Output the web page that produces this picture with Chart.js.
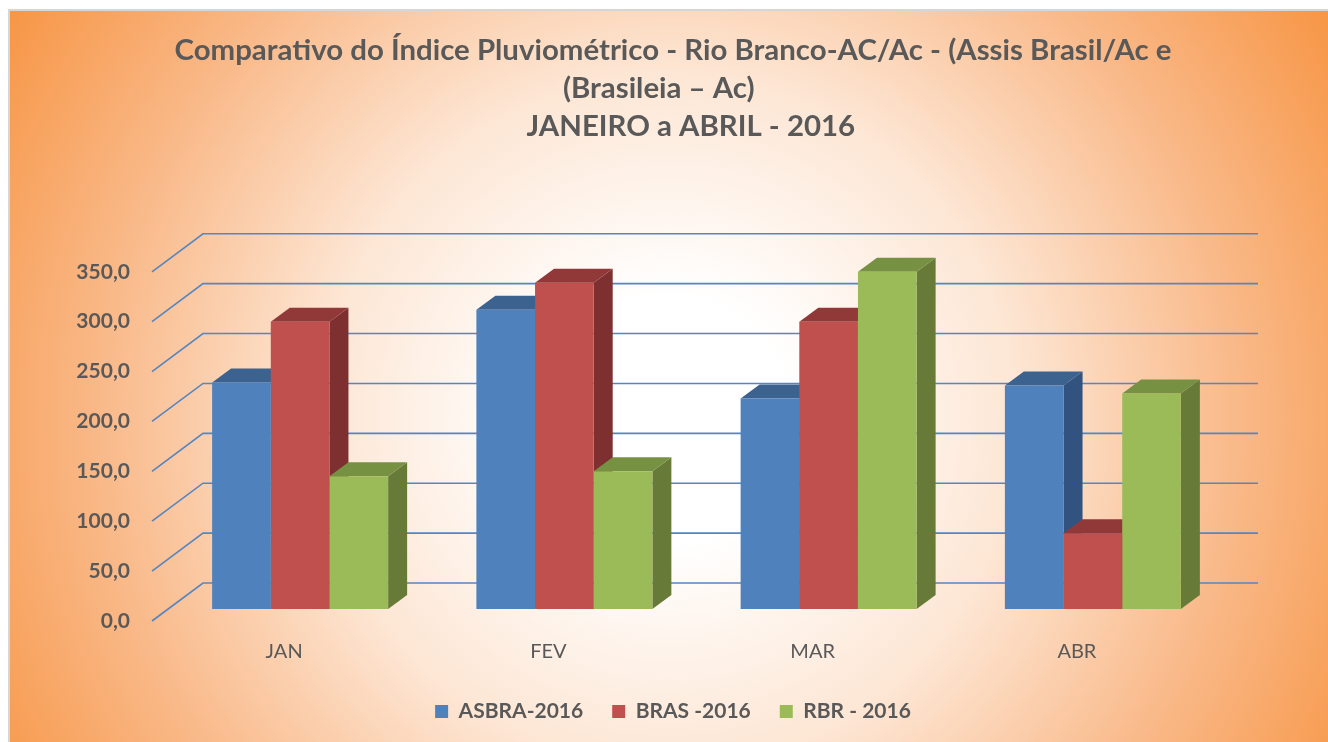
<!DOCTYPE html>
<html>
<head>
<meta charset="utf-8">
<script src="https://cdn.jsdelivr.net/npm/chart.js@4.4.1/dist/chart.umd.min.js"></script>
<style>
  html, body { margin: 0; padding: 0; background: #fff; }
  .wrap { position: relative; width: 1328px; height: 742px; overflow: hidden; }
  .bg {
    position: absolute; left: 8px; top: 9px; right: 0; bottom: 0;
    border-left: 2px solid #d6d6d6; border-top: 2px solid #d6d6d6;
    background: radial-gradient(circle farthest-corner at 50% 56%, #ffffff 0%, #ffffff 16%, #fde6d4 45%, #f9b887 74%, #f79646 100%);
  }
  canvas { position: absolute; left: 0; top: 0; }
</style>
</head>
<body>
<div class="wrap">
  <div class="bg"></div>
  <canvas id="chuvaChart" width="1328" height="742"></canvas>
</div>
<script>
// Dados (mm) - leitura do gráfico
const meses = ['JAN', 'FEV', 'MAR', 'ABR'];
const asbra2016 = [227, 300, 211, 224];
const bras2016 = [288, 327, 288, 76];
const rbr2016 = [133, 138, 338, 216];

// espaços extras imitam o alinhamento do original
const tituloLinhas = [
    'Comparativo do Índice Pluviométrico - Rio Branco-AC/Ac - (Assis Brasil/Ac e',
    '(Brasileia – Ac)    ',
    '     JANEIRO a ABRIL - 2016'
];

// cores: frente, topo, lateral
const cores = [
    ['#4F81BD', '#3c628f', '#325380'],
    ['#C0504D', '#913838', '#7e3030'],
    ['#9BBB59', '#779143', '#687a38']
];

const DX = 19, DY = 14;

// grade em "3D" + faces superiores/laterais das barras
const efeito3d = {
    id: 'efeito3d',
    beforeDatasetsDraw(chart) {
        const ctx = chart.ctx;
        const area = chart.chartArea;
        const y = chart.scales.y;

        ctx.save();
        ctx.strokeStyle = '#5585c2';
        ctx.lineWidth = 1.6;
        y.ticks.forEach(t => {
            const py = y.getPixelForValue(t.value);
            ctx.beginPath();
            ctx.moveTo(area.left - 16, py + 12);
            ctx.lineTo(area.left + 35, py - 26);
            ctx.lineTo(area.right + 33, py - 26);
            ctx.stroke();
        });

        // laterais primeiro, depois topos (frentes ficam com o Chart.js)
        ['lado', 'topo'].forEach(face => {
            chart.data.datasets.forEach((ds, di) => {
                const meta = chart.getDatasetMeta(di);
                meta.data.forEach(bar => {
                    const l = bar.x - bar.width / 2;
                    const r = bar.x + bar.width / 2;
                    ctx.beginPath();
                    if (face === 'lado') {
                        ctx.fillStyle = cores[di][2];
                        ctx.moveTo(r, bar.y);
                        ctx.lineTo(r + DX, bar.y - DY);
                        ctx.lineTo(r + DX, bar.base - DY);
                        ctx.lineTo(r, bar.base);
                    } else {
                        ctx.fillStyle = cores[di][1];
                        ctx.moveTo(l, bar.y);
                        ctx.lineTo(r, bar.y);
                        ctx.lineTo(r + DX, bar.y - DY);
                        ctx.lineTo(l + DX, bar.y - DY);
                    }
                    ctx.closePath();
                    ctx.fill();
                });
            });
        });
        ctx.restore();
    }
};

new Chart(document.getElementById('chuvaChart'), {
    type: 'bar',
    data: {
        labels: meses,
        datasets: [
            { label: 'ASBRA-2016', data: asbra2016, backgroundColor: cores[0][0] },
            { label: 'BRAS -2016', data: bras2016, backgroundColor: cores[1][0] },
            { label: 'RBR - 2016', data: rbr2016, backgroundColor: cores[2][0] }
        ]
    },
    options: {
        responsive: false,
        animation: false,
        categoryPercentage: 0.666,
        barPercentage: 1,
        layout: { padding: { left: 18, right: 0, top: 0, bottom: 10 } },
        plugins: {
            title: {
                display: true,
                text: tituloLinhas,
                color: '#595959',
                font: { family: 'Lato', size: 29.4, weight: 'bold', lineHeight: 1.29 },
                padding: { top: 32, bottom: 114 }
            },
            legend: {
                position: 'bottom',
                labels: {
                    boxWidth: 13,
                    boxHeight: 13,
                    padding: 29,
                    color: '#595959',
                    font: { family: 'Lato', size: 21, weight: 'bold' }
                }
            },
            tooltip: { enabled: false }
        },
        scales: {
            x: {
                grid: { display: false, drawTicks: false },
                border: { display: false },
                ticks: {
                    color: '#595959',
                    font: { family: 'Lato', size: 20 },
                    padding: 31,
                    labelOffset: -16
                },
                afterFit: function(scale) { scale.height = 63; }
            },
            y: {
                min: 0,
                max: 350,
                grid: { display: false, drawTicks: false },
                border: { display: false },
                ticks: {
                    stepSize: 50,
                    color: '#595959',
                    font: { family: 'Lato', size: 21, weight: 'bold' },
                    padding: 38,
                    labelOffset: 12,
                    callback: function(value) {
                        return value.toFixed(1).replace('.', ',');
                    }
                },
                afterFit: function(scale) { scale.width = 150; }
            },
            // eixo vazio à direita só para reservar a margem
            yDir: {
                position: 'right',
                grid: { display: false, drawTicks: false },
                border: { display: false },
                ticks: { display: false },
                afterFit: function(scale) { scale.width = 103; }
            }
        }
    },
    plugins: [efeito3d]
});
</script>
</body>
</html>
